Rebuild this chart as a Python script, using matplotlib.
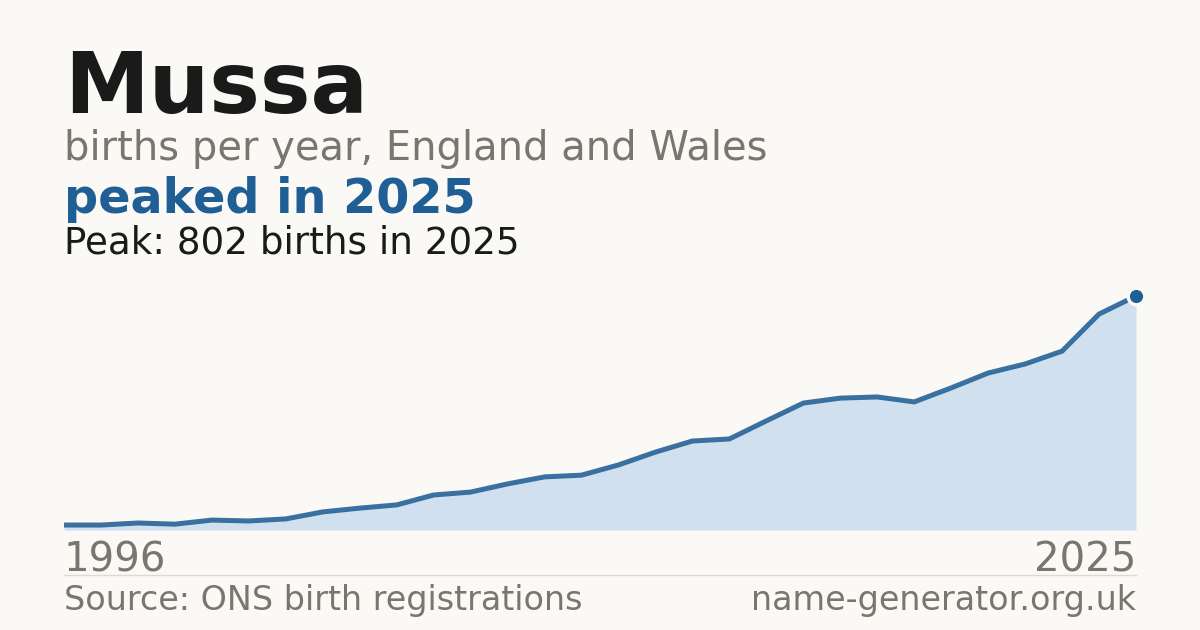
import matplotlib
matplotlib.use('Agg')
import matplotlib.pyplot as plt

# births per year for "Mussa"
years = list(range(1996, 2026))
births = [17, 17, 24, 20, 34, 31, 38, 62, 75, 86,
          120, 130, 158, 182, 188, 223, 267, 305, 312, 374,
          435, 452, 456, 439, 487, 538, 569, 613, 740, 802]

name = 'Mussa'
subtitle = 'births per year, England and Wales'
headline = 'peaked in 2025'
peak_note = 'Peak: 802 births in 2025'
source = 'Source: ONS birth registrations'
site = 'name-generator.org.uk'

bg = '#faf9f5'
blue = '#1f5f96'
grey = '#7a756d'
dark = '#1a1a1a'

W, H = 1200, 630

def fy(py):
    return 1 - py / H

def fx(px):
    return px / W

fig = plt.figure(figsize=(12, 6.3), dpi=100)
fig.patch.set_facecolor(bg)

peak_i = births.index(max(births))

ax = fig.add_axes([fx(64), fy(530), fx(1136) - fx(64), (530 - 296) / H])
ax.set_facecolor('none')
ax.fill_between(years, births, 0, color='#d0e0ef', lw=0)
ax.plot(years, births, color='#2a6599', lw=3.6, solid_capstyle='butt',
        solid_joinstyle='miter', alpha=0.92)
ax.plot(years[peak_i], births[peak_i], 'o', ms=12, color=blue,
        mec=bg, mew=2.5, clip_on=False, zorder=5)
ax.set_xlim(years[0], years[-1])
ax.set_ylim(0, max(births))
ax.axis('off')

fig.text(fx(64), fy(113), name, fontsize=61.3, fontweight='bold', color=dark, va='baseline')
fig.text(fx(64), fy(160), subtitle, fontsize=28.8, color=grey, va='baseline')
fig.text(fx(64), fy(213), headline, fontsize=34.4, fontweight='bold', color=blue, va='baseline')
fig.text(fx(64), fy(253), peak_note, fontsize=26.8, color=dark, va='baseline')

fig.text(fx(64), fy(571), str(years[0]), fontsize=29, color=grey, va='baseline')
fig.text(fx(1136), fy(571), str(years[-1]), fontsize=29, color=grey, va='baseline', ha='right')

fig.add_artist(plt.Line2D([fx(64), fx(1136)], [fy(574.5), fy(574.5)], color='#dddad3', lw=1))

fig.text(fx(64), fy(610), source, fontsize=24, color=grey, va='baseline')
fig.text(fx(1136), fy(610), site, fontsize=24, color=grey, va='baseline', ha='right')

fig.savefig('out.png', dpi=100, facecolor=bg)
